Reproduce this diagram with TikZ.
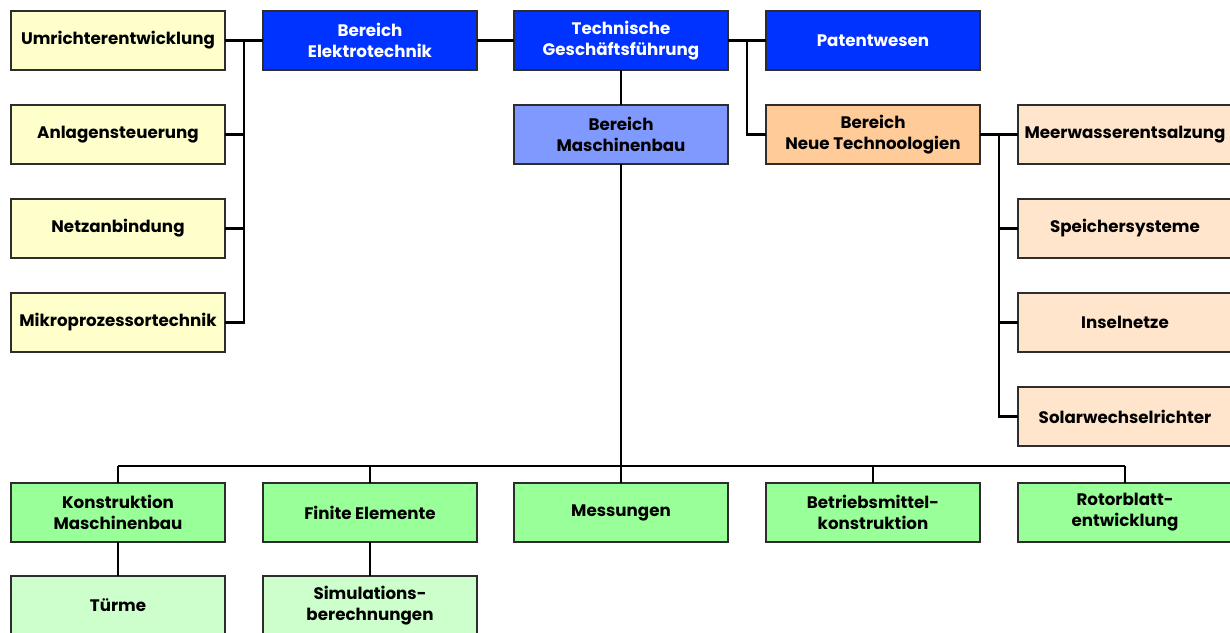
\documentclass[tikz,border=0pt]{standalone}
\usepackage{fontspec}
\setmainfont{Poppins}
\usepackage{tikz}
\usetikzlibrary{positioning, calc}
\definecolor{edge}{RGB}{45, 45, 45}
\definecolor{leitung}{RGB}{0, 51, 255}
\definecolor{mbbg}{RGB}{128, 153, 255}
\definecolor{ntbg}{RGB}{255, 204, 153}
\definecolor{ntsub}{RGB}{255, 229, 204}
\definecolor{etsub}{RGB}{255, 255, 204}
\definecolor{mbsub}{RGB}{153, 255, 153}
\definecolor{mbsubsub}{RGB}{204, 255, 204}
\tikzset{
    font=\fontsize{9.5}{12}\selectfont\bfseries,
    box/.style={rectangle, draw=edge, line width=1pt, align=center, minimum width=4.28cm, minimum height=1.18cm, inner sep=2pt, outer sep=0pt},
    head/.style={box, fill=leitung, text=white},
    maschbox/.style={box, fill=mbbg},
    neubox/.style={box, fill=ntbg},
    etbox/.style={box, fill=etsub},
    ntbox/.style={box, fill=ntsub},
    mbbox/.style={box, fill=mbsub},
    mb2box/.style={box, fill=mbsubsub},
    conn/.style={line width=1.6pt, color=black},
    bus/.style={line width=0.9pt, color=black}
}

\begin{document}
\begin{tikzpicture}[node distance=0.7cm and 0.76cm]

    \useasboundingbox (0,0) rectangle (24.6,-12.64);

    \node (umricht)  [etbox] at (2.36,-0.81) {Umrichterentwicklung};
    \node (anlage)   [etbox, below=of umricht] {Anlagensteuerung};
    \node (netz)     [etbox, below=of anlage] {Netzanbindung};
    \node (mikro)    [etbox, below=of netz] {Mikroprozessortechnik};

    \node (elektro)  [head, right=of umricht] {Bereich\\Elektrotechnik};
    \node (techgf)   [head, right=0.74cm of elektro] {Technische\\Geschäftsführung};
    \node (patent)   [head, right=of techgf] {Patentwesen};
    \node (maschbau) [maschbox, below=of techgf] {Bereich\\Maschinenbau};
    \node (neutech)  [neubox, below=of patent] {Bereich\\Neue Technoologien};

    \node (meer)     [ntbox, right=of neutech] {Meerwasserentsalzung};
    \node (speicher) [ntbox, below=of meer] {Speichersysteme};
    \node (insel)    [ntbox, below=of speicher] {Inselnetze};
    \node (solar)    [ntbox, below=of insel] {Solarwechselrichter};

    \node (konstr)   [mbbox, below=2.62cm of mikro] {Konstruktion\\Maschinenbau};
    \node (finite)   [mbbox, right=of konstr] {Finite Elemente};
    \node (mess)     [mbbox, right=0.74cm of finite] {Messungen};
    \node (betrieb)  [mbbox, right=of mess] {Betriebsmittel-\\konstruktion};
    \node (rotor)    [mbbox, right=of betrieb] {Rotorblatt-\\entwicklung};

    \node (tuerme)   [mb2box, below=0.68cm of konstr] {Türme};
    \node (simul)    [mb2box, below=0.68cm of finite] {Simulations-\\berechnungen};

    \coordinate (etbus) at ($(umricht.east)!0.5!(elektro.west)$);
    \coordinate (gfbus) at ($(techgf.east)!0.5!(patent.west)$);
    \coordinate (ntbus) at ($(neutech.east)!0.5!(meer.west)$);
    \coordinate (mbbus) at ($(mess.north)+(0,0.34)$);

    \draw [conn] (umricht.east) -- (elektro.west);
    \draw [conn] (etbus) |- (mikro.east);
    \draw [conn] (anlage.east) -- (anlage.east -| etbus);
    \draw [conn] (netz.east) -- (netz.east -| etbus);

    \draw [conn] (elektro.east) -- (techgf.west);
    \draw [conn] (techgf.east) -- (patent.west);
    \draw [conn] (gfbus) |- (neutech.west);
    \draw [conn] (techgf.south) -- (maschbau.north);

    \draw [conn] (neutech.east) -- (meer.west);
    \draw [conn] (ntbus) |- (solar.west);
    \draw [conn] (speicher.west) -- (speicher.west -| ntbus);
    \draw [conn] (insel.west) -- (insel.west -| ntbus);

    \draw [conn] (maschbau.south) -- (mess.north);
    \draw [bus] (konstr.north |- mbbus) -- (rotor.north |- mbbus);
    \draw [conn] (konstr.north) -- (konstr.north |- mbbus);
    \draw [conn] (finite.north) -- (finite.north |- mbbus);
    \draw [conn] (betrieb.north) -- (betrieb.north |- mbbus);
    \draw [bus] (rotor.north) -- (rotor.north |- mbbus);

    \draw [conn] (konstr.south) -- (tuerme.north);
    \draw [conn] (finite.south) -- (simul.north);

\end{tikzpicture}
\end{document}
